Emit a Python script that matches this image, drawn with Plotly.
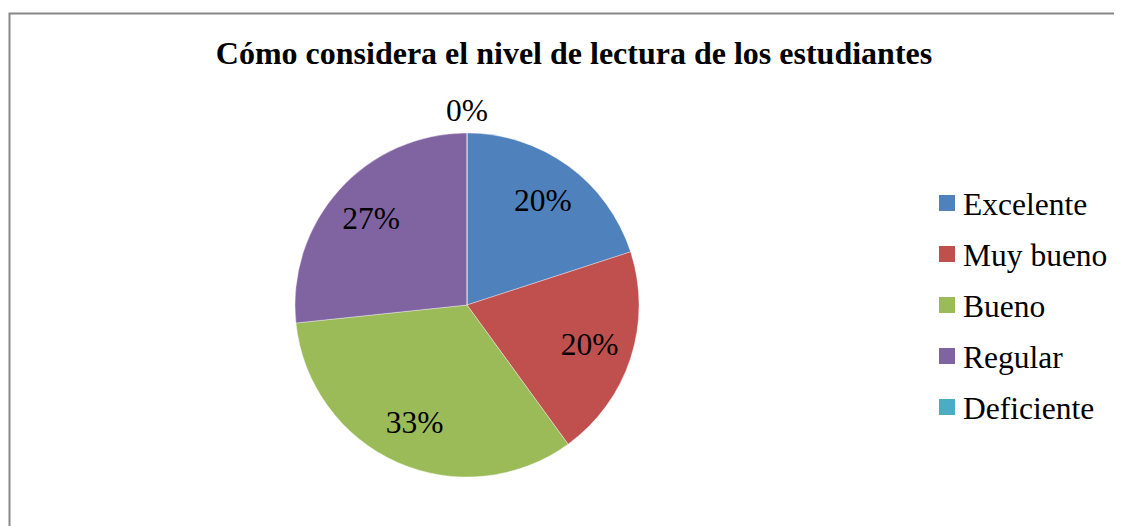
import plotly.graph_objects as go

categories = ["Excelente", "Muy bueno", "Bueno", "Regular", "Deficiente"]
values = [3, 3, 5, 4, 0]
colors = ["#4F81BD", "#C0504D", "#9BBB59", "#8064A2", "#4BACC6"]
title_text = "Cómo considera el nivel de lectura de los estudiantes"

# page offset (browser body margin)
OFF = 8
W, H = 1122 - OFF, 526 - OFF


def px(x):
    return (x - OFF) / W


def py(y):
    return 1 - (y - OFF) / H


cx, cy, r = 467, 305, 172
dom = dict(x=[px(cx - r), px(cx + r)], y=[py(cy + r), py(cy - r)])
FONT = "Liberation Serif"
FS = 31.5

total = sum(values)
inside_pos = ["inside" if v > 0 else "none" for v in values]

fig = go.Figure()
# coloured pie
fig.add_trace(go.Pie(
    labels=categories, values=values,
    marker=dict(colors=colors, line=dict(color="rgba(255,255,255,0.6)", width=0.6)),
    sort=False, direction="clockwise", rotation=0,
    textinfo="none", domain=dom, showlegend=False,
    hoverinfo="label+percent",
))
# transparent ring carrying the data labels (places them further out like Excel)
fig.add_trace(go.Pie(
    labels=categories, values=values, hole=0.5,
    marker=dict(colors=["rgba(0,0,0,0)"] * len(values), line=dict(width=0)),
    sort=False, direction="clockwise", rotation=0,
    texttemplate="%{percent:.0%}", textposition=inside_pos,
    insidetextorientation="horizontal",
    textfont=dict(family=FONT, size=FS, color="black"),
    domain=dom, showlegend=False, hoverinfo="skip",
))

annotations = []
# label for zero-valued slice(s), centred above the top of the pie
for cat, v in zip(categories, values):
    if v == 0:
        annotations.append(dict(
            x=px(cx), y=py(cy - r - 3), xref="paper", yref="paper",
            text=f"{v / total:.0%}", showarrow=False,
            xanchor="center", yanchor="bottom",
            font=dict(family=FONT, size=FS, color="black")))

shapes = [dict(type="rect", xref="paper", yref="paper",
               x0=px(9.5), y0=-0.1, x1=1.1, y1=py(13.5),
               line=dict(color="#888888", width=2), fillcolor="rgba(0,0,0,0)")]

# manual legend
row0, step = 203, 51
for i, (cat, col) in enumerate(zip(categories, colors)):
    yc = row0 + step * i
    shapes.append(dict(type="rect", xref="paper", yref="paper",
                       x0=px(939), x1=px(955), y0=py(yc + 8), y1=py(yc - 8),
                       fillcolor=col, line=dict(width=0)))
    annotations.append(dict(
        x=px(961), y=py(yc + 1), xref="paper", yref="paper",
        text=cat, showarrow=False, xanchor="left", yanchor="middle",
        font=dict(family=FONT, size=FS, color="black")))

fig.update_layout(
    width=W, height=H,
    margin=dict(l=0, r=0, t=0, b=0),
    paper_bgcolor="white", plot_bgcolor="white",
    title=dict(text="<b>" + title_text + "</b>", x=px(574), xanchor="center",
               y=py(53), yanchor="middle",
               font=dict(family=FONT, size=32, color="black")),
    showlegend=False,
    shapes=shapes,
    annotations=annotations,
)

fig.write_html("out.html")
